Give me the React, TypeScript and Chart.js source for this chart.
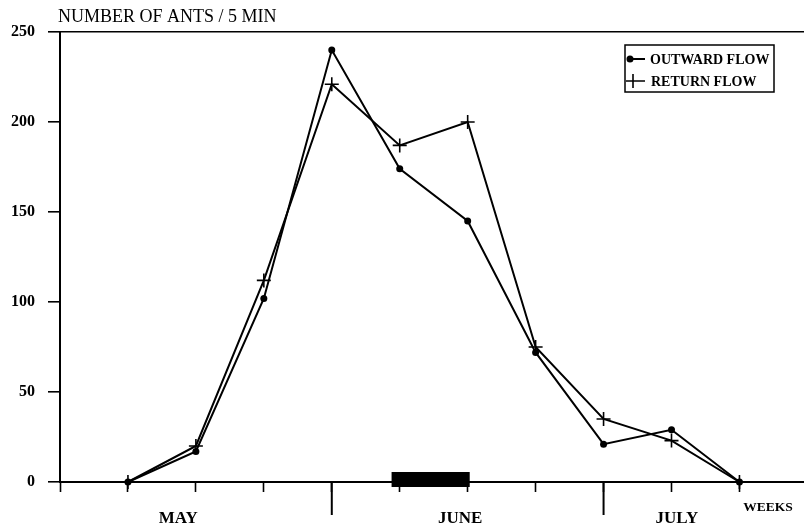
import React, { useEffect, useRef } from 'react';
import { Chart, registerables } from 'chart.js';

Chart.register(...registerables);

// ---- data ----
const weeks = [1, 2, 3, 4, 5, 6, 7, 8, 9, 10];
const outwardFlow = [0, 17, 102, 240, 174, 145, 72, 21, 29, 0];
const returnFlow = [0, 20, 112, 221, 187, 200, 75, 35, 23, 0];
const xTickWeeks = [0, 1, 2, 3, 4, 5, 6, 7, 8, 9, 10];
const yTickValues = [0, 50, 100, 150, 200, 250];
const monthBoundaries = [4, 8];
const monthNames = ['MAY', 'JUNE', 'JULY'];
const monthCenters = [1.74, 5.89, 9.08];
const markedPeriod = [4.88, 6.03];
const seriesLabels = ['OUTWARD FLOW', 'RETURN FLOW'];
const yTitle = 'NUMBER OF ANTS / 5 MIN';
const xTitle = 'WEEKS';
const xTitleAt = 10.42;

const FONT = '"Liberation Serif", "Times New Roman", serif';

const decor = {
  id: 'decor',
  afterDraw(chart: any) {
    const { ctx, chartArea, scales } = chart;
    const xs = scales.x;
    const ys = scales.y;
    const y0 = ys.getPixelForValue(0);
    ctx.save();
    ctx.fillStyle = '#000';
    ctx.strokeStyle = '#000';

    // marked period bar on the x axis
    const bx0 = xs.getPixelForValue(markedPeriod[0]);
    const bx1 = xs.getPixelForValue(markedPeriod[1]);
    ctx.fillRect(bx0, y0 - 10, bx1 - bx0, 15);

    // long month-boundary ticks
    ctx.lineWidth = 2;
    monthBoundaries.forEach((v) => {
      const px = xs.getPixelForValue(v);
      ctx.beginPath();
      ctx.moveTo(px, y0);
      ctx.lineTo(px, y0 + 33);
      ctx.stroke();
    });

    // month labels
    ctx.font = `bold 17px ${FONT}`;
    ctx.textAlign = 'center';
    ctx.textBaseline = 'middle';
    monthNames.forEach((m, i) => {
      ctx.fillText(m, xs.getPixelForValue(monthCenters[i]), y0 + 37);
    });
    ctx.font = `bold 13.5px ${FONT}`;
    ctx.fillText(xTitle, xs.getPixelForValue(xTitleAt), y0 + 26);

    // y title
    ctx.textAlign = 'left';
    ctx.textBaseline = 'alphabetic';
    ctx.font = `18px ${FONT}`;
    ctx.fillText(yTitle, chartArea.left - 2, chartArea.top - 10);

    // legend
    const lx = chartArea.right - 179;
    const ly = chartArea.top + 13;
    ctx.lineWidth = 1.5;
    ctx.strokeRect(lx, ly, 149, 47);
    const r1 = ly + 14;
    const r2 = ly + 36;
    ctx.lineWidth = 2;
    ctx.beginPath();
    ctx.moveTo(lx + 4, r1);
    ctx.lineTo(lx + 20, r1);
    ctx.stroke();
    ctx.beginPath();
    ctx.arc(lx + 5, r1, 3.5, 0, Math.PI * 2);
    ctx.fill();
    ctx.lineWidth = 1.6;
    ctx.beginPath();
    ctx.moveTo(lx + 1, r2);
    ctx.lineTo(lx + 20, r2);
    ctx.moveTo(lx + 8, r2 - 7);
    ctx.lineTo(lx + 8, r2 + 7);
    ctx.stroke();
    ctx.font = `bold 14px ${FONT}`;
    ctx.textBaseline = 'middle';
    ctx.fillText(seriesLabels[0], lx + 25, r1 + 1);
    ctx.fillText(seriesLabels[1], lx + 26, r2 + 1);

    ctx.restore();
  },
};

export default function App() {
  const ref = useRef<HTMLCanvasElement | null>(null);

  useEffect(() => {
    if (!ref.current) return;
    document.documentElement.style.overflow = 'hidden';
    document.body.style.overflow = 'hidden';
    Chart.defaults.font.family = FONT;
    const chart = new Chart(ref.current, {
      type: 'line',
      data: {
        datasets: [
          {
            label: seriesLabels[0],
            data: weeks.map((w, i) => ({ x: w, y: outwardFlow[i] })),
            borderColor: '#000',
            backgroundColor: '#000',
            borderWidth: 2,
            pointStyle: 'circle',
            pointRadius: 3.5,
            pointBorderWidth: 0,
            pointBackgroundColor: '#000',
            tension: 0,
            clip: false as any,
          },
          {
            label: seriesLabels[1],
            data: weeks.map((w, i) => ({ x: w, y: returnFlow[i] })),
            borderColor: '#000',
            backgroundColor: '#000',
            borderWidth: 2,
            pointStyle: 'cross',
            pointRadius: 7,
            pointBorderWidth: 1.6,
            pointBorderColor: '#000',
            tension: 0,
            clip: false as any,
          },
        ],
      },
      options: {
        animation: false,
        responsive: false,
        maintainAspectRatio: false,
        devicePixelRatio: 1,
        layout: { autoPadding: false, padding: { top: 32, left: 0, right: 0, bottom: 0 } },
        plugins: {
          legend: { display: false },
          tooltip: { enabled: false },
          title: { display: false },
        },
        scales: {
          x: {
            type: 'linear',
            min: 0,
            max: 10.95,
            afterBuildTicks: (s: any) => {
              s.ticks = xTickWeeks.map((v) => ({ value: v }));
            },
            afterFit: (s: any) => {
              s.height = 48;
            },
            ticks: { display: false },
            grid: {
              drawOnChartArea: false,
              drawTicks: true,
              tickLength: 10,
              tickColor: '#000',
              tickWidth: 1.6,
              color: '#000',
            },
            border: { display: true, color: '#000', width: 2 },
          },
          y: {
            type: 'linear',
            min: 0,
            max: 250,
            afterBuildTicks: (s: any) => {
              s.ticks = yTickValues.map((v) => ({ value: v }));
            },
            afterFit: (s: any) => {
              s.width = 60;
            },
            ticks: {
              color: '#000',
              padding: 13,
              font: { family: FONT, size: 16, weight: 'bold' },
            },
            grid: {
              drawOnChartArea: true,
              drawTicks: true,
              tickLength: 12,
              tickColor: '#000',
              tickWidth: 1.6,
              lineWidth: 1.6,
              color: (c: any) => (c.tick && c.tick.value === 250 ? '#000' : 'rgba(0,0,0,0)'),
            },
            border: { display: true, color: '#000', width: 2 },
          },
        },
      },
      plugins: [decor],
    } as any);
    return () => chart.destroy();
  }, []);

  return (
    <div style={{ position: 'absolute', left: 0, top: 0, width: 804, height: 530, overflow: 'hidden', background: '#fff' }}>
      <canvas ref={ref} width={804} height={530} style={{ display: 'block', width: 804, height: 530 }} />
    </div>
  );
}
